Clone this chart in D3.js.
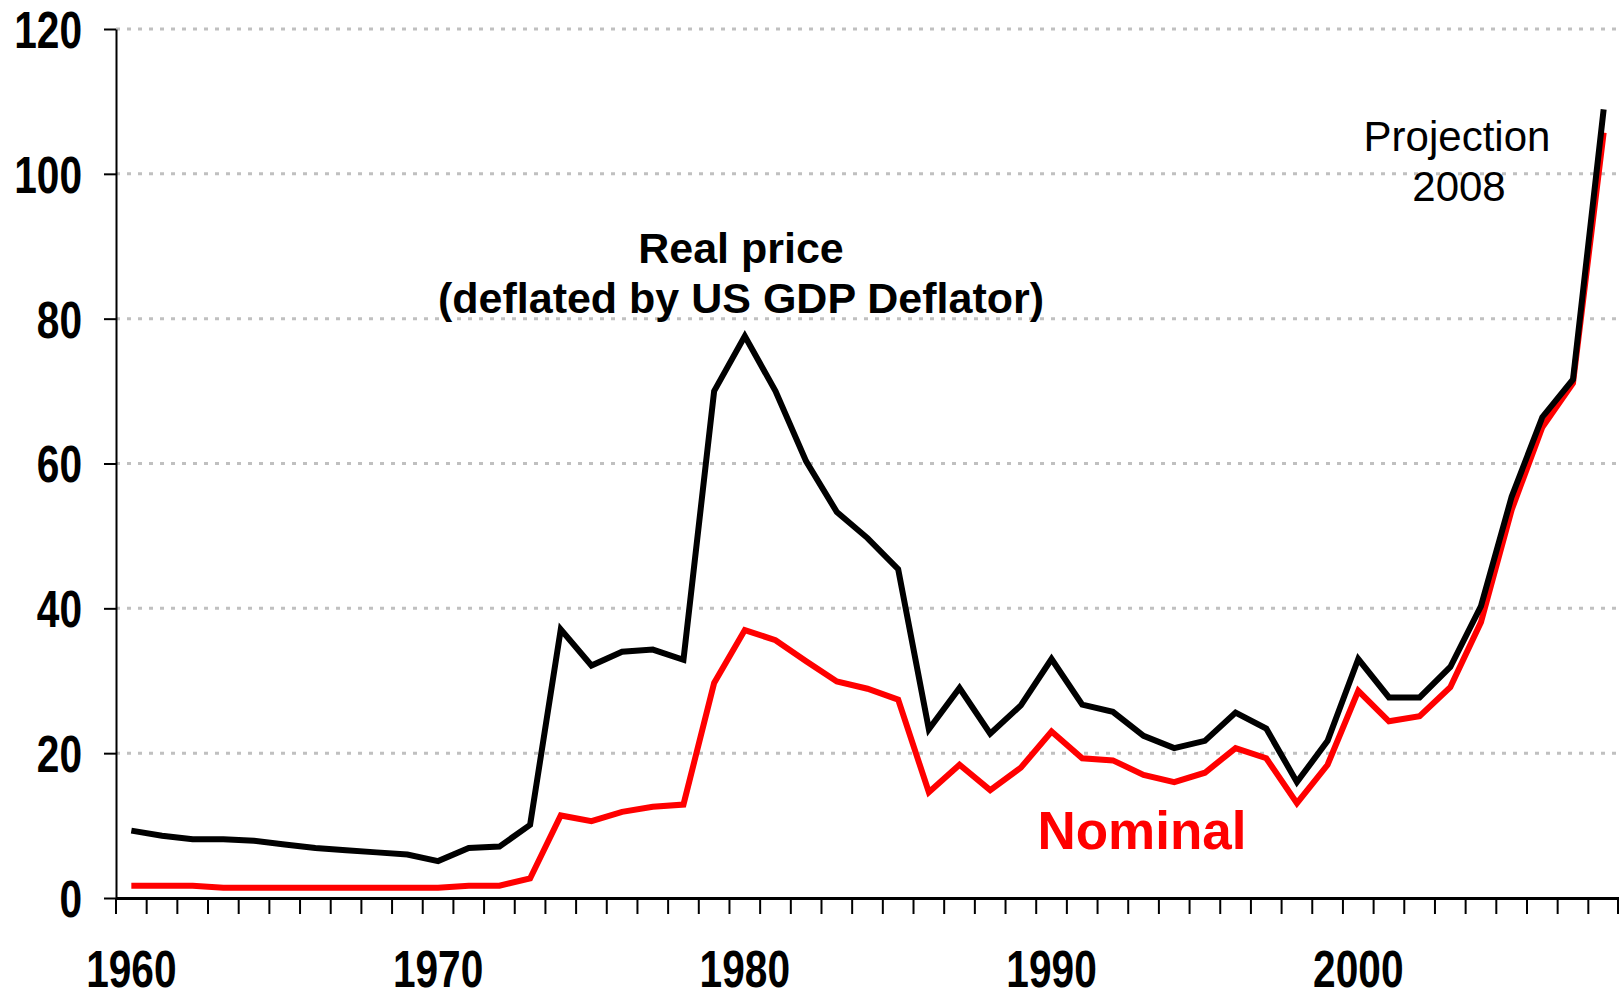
<!DOCTYPE html>
<html>
<head>
<meta charset="utf-8">
<script src="https://cdn.jsdelivr.net/npm/d3@7"></script>
<style>
  html, body { margin: 0; padding: 0; background: #fff; }
  svg { display: block; }
  .tick-label { font-family: "Liberation Sans", Arial, sans-serif; font-weight: bold; font-size: 51px; }
  .note { font-family: "Liberation Sans", Arial, sans-serif; }
</style>
</head>
<body>
<svg id="chart" width="1619" height="997"></svg>
<script>
// years 1960 - 2008 (2008 = projection)
const years = d3.range(1960, 2009);

// real price (deflated by US GDP deflator)
const realPrice = [
  9.3, 8.6, 8.1, 8.1, 7.9, 7.4, 6.9, 6.6, 6.3, 6.0,
  5.1, 6.9, 7.1, 10.1, 37.1, 32.1, 34.0, 34.3, 32.9, 70.0,
  77.6, 70.0, 60.3, 53.3, 49.7, 45.4, 23.3, 29.0, 22.7, 26.6,
  33.0, 26.7, 25.7, 22.4, 20.7, 21.7, 25.6, 23.4, 16.0, 21.7,
  33.0, 27.7, 27.7, 31.9, 40.3, 55.4, 66.4, 71.6, 108.9
];

// nominal price
const nominal = [
  1.7, 1.7, 1.7, 1.4, 1.4, 1.4, 1.4, 1.4, 1.4, 1.4,
  1.4, 1.7, 1.7, 2.7, 11.4, 10.6, 11.9, 12.6, 12.9, 29.7,
  37.0, 35.6, 32.7, 29.9, 28.9, 27.4, 14.6, 18.4, 14.9, 18.0,
  23.0, 19.3, 19.0, 17.0, 16.0, 17.3, 20.7, 19.3, 13.1, 18.4,
  28.6, 24.4, 25.1, 29.1, 38.1, 53.6, 65.0, 71.1, 105.7
];

const yTicks = [0, 20, 40, 60, 80, 100, 120];
const xLabels = [1960, 1970, 1980, 1990, 2000];

const svg = d3.select("#chart");
const plotLeft = 116, plotRight = 1619, plotTop = 29, plotBottom = 898;
const digitWidth = 22.6; // narrow bold look

const x = d3.scaleBand()
    .domain(years)
    .range([plotLeft, plotRight]);

const y = d3.scaleLinear()
    .domain([0, 120])
    .range([plotBottom, plotTop]);

const cx = d => x(d) + x.bandwidth() / 2;

function narrow(sel) {
  sel.attr("textLength", function() { return this.textContent.length * digitWidth; })
     .attr("lengthAdjust", "spacingAndGlyphs");
}

// Gridlines (dotted grey)
svg.append("g")
  .selectAll("line")
  .data(yTicks.filter(v => v > 0))
  .enter().append("line")
  .attr("x1", plotLeft)
  .attr("x2", plotRight)
  .attr("y1", d => y(d))
  .attr("y2", d => y(d))
  .attr("stroke", "#c0c0c0")
  .attr("stroke-width", 3)
  .attr("stroke-dasharray", "4,7");

// Y axis
const yAxis = svg.append("g")
  .attr("transform", `translate(${plotLeft},0)`)
  .call(d3.axisLeft(y).tickValues(yTicks).tickSize(12).tickPadding(22).tickSizeOuter(0));
yAxis.select(".domain").attr("stroke", "#000").attr("stroke-width", 2);
yAxis.selectAll(".tick line").attr("stroke", "#000").attr("stroke-width", 2);
yAxis.selectAll(".tick text")
  .attr("class", "tick-label")
  .attr("fill", "#000")
  .attr("dy", "0.36em")
  .call(narrow);

// X axis: labels centred on each year, tick marks on the year boundaries
const xAxis = svg.append("g")
  .attr("transform", `translate(0,${plotBottom})`)
  .call(d3.axisBottom(x).tickValues(xLabels).tickSize(0).tickSizeOuter(0));
xAxis.select(".domain").attr("stroke", "#000").attr("stroke-width", 3);
xAxis.selectAll(".tick text")
  .attr("class", "tick-label")
  .attr("fill", "#000")
  .attr("y", 89)
  .attr("dy", 0)
  .call(narrow);

svg.append("g")
  .selectAll("line")
  .data(years.concat([2009]))
  .enter().append("line")
  .attr("x1", d => d === 2009 ? plotRight - 1 : x(d))
  .attr("x2", d => d === 2009 ? plotRight - 1 : x(d))
  .attr("y1", plotBottom)
  .attr("y2", plotBottom + 16)
  .attr("stroke", "#000")
  .attr("stroke-width", 2);

// Lines
const line = d3.line()
  .x((d, i) => cx(years[i]))
  .y(d => y(d));

svg.append("path")
  .datum(nominal)
  .attr("d", line)
  .attr("fill", "none")
  .attr("stroke", "#ff0000")
  .attr("stroke-width", 6)
  .attr("stroke-linejoin", "miter");

svg.append("path")
  .datum(realPrice)
  .attr("d", line)
  .attr("fill", "none")
  .attr("stroke", "#000")
  .attr("stroke-width", 6)
  .attr("stroke-linejoin", "miter");

// Annotations
const notes = svg.append("g").attr("class", "note").attr("text-anchor", "middle");

notes.append("text")
  .attr("x", 741).attr("y", 263)
  .attr("font-size", 43).attr("font-weight", "bold")
  .text("Real price");
notes.append("text")
  .attr("x", 741).attr("y", 313)
  .attr("font-size", 43).attr("font-weight", "bold")
  .text("(deflated by US GDP Deflator)");

notes.append("text")
  .attr("x", 1142).attr("y", 849)
  .attr("font-size", 53).attr("font-weight", "bold")
  .attr("fill", "#ff0000")
  .text("Nominal");

notes.append("text")
  .attr("x", 1457).attr("y", 151)
  .attr("font-size", 42)
  .text("Projection");
notes.append("text")
  .attr("x", 1459).attr("y", 201)
  .attr("font-size", 42)
  .text("2008");
</script>
</body>
</html>
